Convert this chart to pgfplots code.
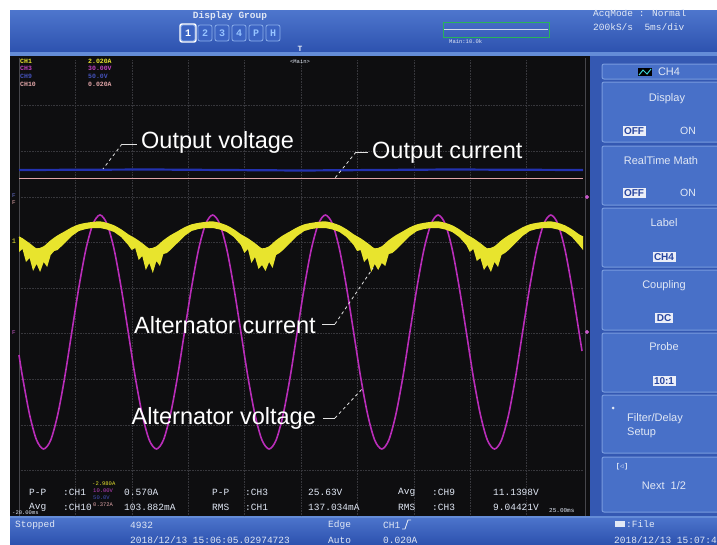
\documentclass[border=0pt]{standalone}
\usepackage{pgfplots}
\pgfplotsset{compat=1.18}
\usepackage{fontspec}
\setmainfont{Liberation Sans}
\newfontfamily\mono{Liberation Mono}
\definecolor{scopebg}{RGB}{14,14,16}
\definecolor{bartopc}{RGB}{78,118,205}
\definecolor{barbotc}{RGB}{45,82,175}
\definecolor{lightbar}{RGB}{100,140,215}
\definecolor{panelbg}{RGB}{52,88,178}
\definecolor{boxblue}{RGB}{72,112,200}
\definecolor{boxedge}{RGB}{120,155,222}
\definecolor{ytrace}{RGB}{232,228,45}
\definecolor{mtrace}{RGB}{185,45,185}
\definecolor{btrace}{RGB}{35,50,175}
\definecolor{ptrace}{RGB}{225,165,168}
\definecolor{gridc}{RGB}{55,55,60}
\definecolor{frameg}{RGB}{70,70,75}
\definecolor{leader}{RGB}{225,225,225}
\definecolor{uitext}{RGB}{225,232,245}
\definecolor{hitext}{RGB}{40,70,160}
\definecolor{hifill}{RGB}{235,238,248}
\definecolor{btnfill}{RGB}{60,100,195}
\definecolor{btnedge}{RGB}{140,175,235}
\definecolor{btntext}{RGB}{150,195,255}
\definecolor{greenbox}{RGB}{40,180,90}
\definecolor{mainline}{RGB}{210,220,235}
\definecolor{iconc}{RGB}{60,210,210}
\newcommand{\pbox}[2]{\filldraw[fill=boxblue, draw=boxedge, line width=1pt, rounded corners=2pt] (602,#1) rectangle (724,#2);}
\begin{document}
\begin{tikzpicture}
\begin{axis}[at={(0,0)}, anchor=south west, scale only axis, width=717pt, height=544pt,
  xmin=0, xmax=717, ymin=0, ymax=544, y dir=reverse, axis lines=none, ticks=none, clip=true]
\coordinate (A) at (axis cs:0,544);
\coordinate (B) at (axis cs:717,0);
% backgrounds
\fill[white] (0,0) rectangle (717,544);
\shade[top color=bartopc, bottom color=barbotc] (10,10) rectangle (717,52);
\fill[lightbar] (10,52) rectangle (717,56);
\fill[scopebg] (10,56) rectangle (590,516);
\fill[panelbg] (590,56) rectangle (717,516);
\shade[top color=bartopc, bottom color=barbotc] (10,516) rectangle (717,544);
\fill[lightbar] (10,516) rectangle (717,518);
% grid
\pgfplotsinvokeforeach{75.4,131.8,188.2,244.6,301,357.4,413.8,470.2,526.6}{\draw[gridc, densely dotted, line width=0.6pt] (#1,60) -- (#1,516);}
\pgfplotsinvokeforeach{105.6,151.2,196.8,242.4,288,333.6,379.2,424.8,470.4}{\draw[gridc, densely dotted, line width=0.6pt] (19,#1) -- (583,#1);}
\draw[frameg, line width=0.8pt] (19,58) -- (19,516);
\draw[frameg, line width=0.8pt] (585,58) -- (585,516);
% output voltage / output current
\addplot[btrace, line width=2.2pt] coordinates {(19,170) (150,169.5) (300,170.5) (450,169.5) (583,170)};
\addplot[ptrace, line width=1.4pt] coordinates {(19,178.5) (583,178.5)};
% alternator voltage
\addplot[mtrace, line width=1.6pt, smooth] coordinates {
(19,355) (22.5,376.8) (29.6,414.7) (36.6,440.1) (43.6,449) (50.7,440.1) (57.7,414.7) (64.8,376.8) (71.8,332) (78.9,287.2) (85.9,249.3) (93.0,223.9)
(100,215) (107.0,223.9) (114.1,249.3) (121.1,287.2) (128.2,332) (135.2,376.8) (142.3,414.7) (149.3,440.1) (156.4,449) (163.4,440.1) (170.4,414.7) (177.5,376.8) (184.5,332) (191.6,287.2) (198.6,249.3) (205.7,223.9)
(212.7,215) (219.7,223.9) (226.8,249.3) (233.8,287.2) (240.9,332) (247.9,376.8) (255.0,414.7) (262.0,440.1) (269.1,449) (276.1,440.1) (283.1,414.7) (290.2,376.8) (297.2,332) (304.3,287.2) (311.3,249.3) (318.4,223.9)
(325.4,215) (332.5,223.9) (339.5,249.3) (346.5,287.2) (353.6,332) (360.6,376.8) (367.7,414.7) (374.7,440.1) (381.8,449) (388.8,440.1) (395.8,414.7) (402.9,376.8) (409.9,332) (417.0,287.2) (424.0,249.3) (431.1,223.9)
(438.1,215) (445.2,223.9) (452.2,249.3) (459.2,287.2) (466.3,332) (473.3,376.8) (480.4,414.7) (487.4,440.1) (494.5,449) (501.5,440.1) (508.6,414.7) (515.6,376.8) (522.6,332) (529.7,287.2) (536.7,249.3) (543.8,223.9)
(550.8,215) (557.9,223.9) (564.9,249.3) (571.9,287.2) (579.0,332) (582,351)};
% alternator current: noisy band (upper envelope left to right, lower envelope right to left)
\addplot[fill=ytrace, draw=none] coordinates {
(19,237) (22.5,239) (29.6,244) (36.6,249) (43.7,247) (50.7,241) (57.7,236) (64.8,232) (71.8,228) (78.9,225) (85.9,223.5) (93.0,222.5)
(100,222) (107.0,223.5) (114.1,226) (121.1,230) (128.2,235) (135.2,239) (142.3,244) (149.3,249) (156.4,247) (163.4,241) (170.4,236) (177.5,232) (184.5,228) (191.6,225) (198.6,223.5) (205.7,222.5)
(212.7,222) (219.7,223.5) (226.8,226) (233.8,230) (240.9,235) (247.9,239) (255.0,244) (262.0,249) (269.1,247) (276.1,241) (283.1,236) (290.2,232) (297.2,228) (304.3,225) (311.3,223.5) (318.4,222.5)
(325.4,222) (332.5,223.5) (339.5,226) (346.5,230) (353.6,235) (360.6,239) (367.7,244) (374.7,249) (381.8,247) (388.8,241) (395.8,236) (402.9,232) (409.9,228) (417.0,225) (424.0,223.5) (431.1,222.5)
(438.1,222) (445.2,223.5) (452.2,226) (459.2,230) (466.3,235) (473.3,239) (480.4,244) (487.4,249) (494.5,247) (501.5,241) (508.6,236) (515.6,232) (522.6,228) (529.7,225) (536.7,223.5) (543.8,222.5)
(550.8,222) (557.9,223.5) (564.9,226) (571.9,230) (579.0,235) (583,237)
(583,250) (579.0,245) (571.9,237) (564.9,232) (557.9,229.5) (550.8,228)
(543.8,228) (536.7,229) (529.7,231) (522.6,236) (515.6,243) (508.6,250) (505.0,253) (501.5,255) (498.0,267) (494.5,262) (490.9,272) (487.4,265) (483.9,270) (480.4,258) (476.8,261) (473.3,249) (469.8,252) (466.3,245) (459.2,237) (452.2,232) (445.2,229.5) (438.1,228)
(431.1,228) (424.0,229) (417.0,231) (409.9,236) (402.9,243) (395.8,250) (392.3,253) (388.8,254) (385.3,266) (381.8,263) (378.2,270) (374.7,264) (371.2,272) (367.7,258) (364.1,262) (360.6,250) (357.1,251) (353.6,245) (346.5,237) (339.5,232) (332.5,229.5) (325.4,228)
(318.4,228) (311.3,229) (304.3,231) (297.2,236) (290.2,243) (283.1,250) (279.6,253) (276.1,255) (272.6,268) (269.1,262) (265.5,271) (262.0,265) (258.5,269) (255.0,257) (251.4,263) (247.9,249) (244.4,253) (240.9,245) (233.8,237) (226.8,232) (219.7,229.5) (212.7,228)
(205.7,228) (198.6,229) (191.6,231) (184.5,236) (177.5,243) (170.4,250) (166.9,253) (163.4,254) (159.9,266) (156.4,261) (152.8,273) (149.3,263) (145.8,270) (142.3,256) (138.7,260) (135.2,248) (131.7,250) (128.2,245) (121.1,237) (114.1,232) (107.0,229.5) (100,228)
(93.0,228) (85.9,229) (78.9,231) (71.8,236) (64.8,243) (57.7,250) (54.2,251) (50.7,255) (47.2,267) (43.7,262) (40.1,272) (36.6,264) (33.1,271) (29.6,258) (26.0,262) (22.5,249) (19,252)} -- cycle;
\addplot[ytrace, line width=1.3pt, smooth] coordinates {
(19,237) (22.5,239) (29.6,244) (36.6,249) (43.7,247) (50.7,241) (57.7,236) (64.8,232) (71.8,228) (78.9,225) (85.9,223.5) (93.0,222.5)
(100,222) (107.0,223.5) (114.1,226) (121.1,230) (128.2,235) (135.2,239) (142.3,244) (149.3,249) (156.4,247) (163.4,241) (170.4,236) (177.5,232) (184.5,228) (191.6,225) (198.6,223.5) (205.7,222.5)
(212.7,222) (219.7,223.5) (226.8,226) (233.8,230) (240.9,235) (247.9,239) (255.0,244) (262.0,249) (269.1,247) (276.1,241) (283.1,236) (290.2,232) (297.2,228) (304.3,225) (311.3,223.5) (318.4,222.5)
(325.4,222) (332.5,223.5) (339.5,226) (346.5,230) (353.6,235) (360.6,239) (367.7,244) (374.7,249) (381.8,247) (388.8,241) (395.8,236) (402.9,232) (409.9,228) (417.0,225) (424.0,223.5) (431.1,222.5)
(438.1,222) (445.2,223.5) (452.2,226) (459.2,230) (466.3,235) (473.3,239) (480.4,244) (487.4,249) (494.5,247) (501.5,241) (508.6,236) (515.6,232) (522.6,228) (529.7,225) (536.7,223.5) (543.8,222.5)
(550.8,222) (557.9,223.5) (564.9,226) (571.9,230) (579.0,235) (583,237)};
% right edge markers
\addplot[only marks, mark=*, mark size=1.8pt, mtrace!80!white] coordinates {(587,197) (587,332)};
% left edge markers
\node[font=\mono\fontsize{6}{6}\selectfont, text=btrace!70!white, inner sep=0] at (14,196) {F};
\node[font=\mono\fontsize{6}{6}\selectfont, text=ptrace, inner sep=0] at (14,203) {F};
\node[font=\mono\fontsize{7}{7}\selectfont, text=ytrace, inner sep=0] at (14,241) {1};
\node[font=\mono\fontsize{6}{6}\selectfont, text=mtrace!80!white, inner sep=0] at (14,333) {F};
% annotations
\draw[leader, line width=0.8pt] (122,144) -- (137,144);
\draw[leader, line width=0.8pt, dashed] (122,144) -- (103,169);
\draw[leader, line width=0.8pt] (356,152) -- (368,152);
\draw[leader, line width=0.8pt, dashed] (356,152) -- (335,178);
\draw[leader, line width=0.8pt] (322,324) -- (335,324);
\draw[leader, line width=0.8pt, dashed] (335,324) -- (373,268);
\draw[leader, line width=0.8pt] (323,418) -- (335,418);
\draw[leader, line width=0.8pt, dashed] (335,418) -- (363,388);
\node[anchor=base west, text=white, font=\fontsize{23.5}{26}\selectfont, inner sep=0] at (141,148.3) {Output voltage};
\node[anchor=base west, text=white, font=\fontsize{23.5}{26}\selectfont, inner sep=0] at (372,158) {Output current};
\node[anchor=base west, text=white, font=\fontsize{23.5}{26}\selectfont, inner sep=0] at (134,333.5) {Alternator current};
\node[anchor=base west, text=white, font=\fontsize{23.5}{26}\selectfont, inner sep=0] at (131.5,424) {Alternator voltage};
% channel readouts
\node[anchor=west, inner sep=0, font=\mono\bfseries\fontsize{6.5}{7}\selectfont, text=ytrace] at (20,61) {CH1};
\node[anchor=west, inner sep=0, font=\mono\bfseries\fontsize{6.5}{7}\selectfont, text=ytrace] at (88,61) {2.020A};
\node[anchor=west, inner sep=0, font=\mono\bfseries\fontsize{6.5}{7}\selectfont, text=mtrace!90!white] at (20,68.5) {CH3};
\node[anchor=west, inner sep=0, font=\mono\bfseries\fontsize{6.5}{7}\selectfont, text=mtrace!90!white] at (88,68.5) {30.00V};
\node[anchor=west, inner sep=0, font=\mono\bfseries\fontsize{6.5}{7}\selectfont, text=btrace!85!white] at (20,76) {CH9};
\node[anchor=west, inner sep=0, font=\mono\bfseries\fontsize{6.5}{7}\selectfont, text=btrace!85!white] at (88,76) {50.0V};
\node[anchor=west, inner sep=0, font=\mono\bfseries\fontsize{6.5}{7}\selectfont, text=ptrace] at (20,84) {CH10};
\node[anchor=west, inner sep=0, font=\mono\bfseries\fontsize{6.5}{7}\selectfont, text=ptrace] at (88,84) {0.020A};
\node[inner sep=0, font=\mono\bfseries\fontsize{8}{8}\selectfont, text=uitext] at (300,49) {T};
\node[inner sep=0, font=\mono\fontsize{5.5}{6}\selectfont, text=uitext] at (300,62) {<Main>};
% top bar
\node[inner sep=0, font=\mono\bfseries\fontsize{9.5}{10}\selectfont, text=uitext] at (230,16) {Display Group};
\filldraw[fill=btnfill, draw=btnedge, rounded corners=2pt, line width=0.8pt] (181,25) rectangle (195,41);
\filldraw[fill=btnfill, draw=btnedge, rounded corners=2pt, line width=0.8pt] (198,25) rectangle (212,41);
\filldraw[fill=btnfill, draw=btnedge, rounded corners=2pt, line width=0.8pt] (215,25) rectangle (229,41);
\filldraw[fill=btnfill, draw=btnedge, rounded corners=2pt, line width=0.8pt] (232,25) rectangle (246,41);
\filldraw[fill=btnfill, draw=btnedge, rounded corners=2pt, line width=0.8pt] (249,25) rectangle (263,41);
\filldraw[fill=btnfill, draw=btnedge, rounded corners=2pt, line width=0.8pt] (266,25) rectangle (280,41);
\draw[white, line width=1.4pt, rounded corners=2pt] (180,24) rectangle (196,42);
\node[inner sep=0, font=\mono\bfseries\fontsize{10}{10}\selectfont, text=white] at (188,33) {1};
\node[inner sep=0, font=\mono\bfseries\fontsize{10}{10}\selectfont, text=btntext] at (205,33) {2};
\node[inner sep=0, font=\mono\bfseries\fontsize{10}{10}\selectfont, text=btntext] at (222,33) {3};
\node[inner sep=0, font=\mono\bfseries\fontsize{10}{10}\selectfont, text=btntext] at (239,33) {4};
\node[inner sep=0, font=\mono\bfseries\fontsize{10}{10}\selectfont, text=btntext] at (256,33) {P};
\node[inner sep=0, font=\mono\bfseries\fontsize{10}{10}\selectfont, text=btntext] at (273,33) {H};
\draw[greenbox, line width=1pt] (443,22) rectangle (549,37);
\draw[mainline, line width=0.8pt] (444,29) -- (548,29);
\node[anchor=west, inner sep=0, font=\mono\fontsize{5.5}{6}\selectfont, text=uitext] at (449,42) {Main:10.0k};
\node[anchor=west, inner sep=0, font=\mono\fontsize{9.5}{10}\selectfont, text=uitext] at (593,14) {AcqMode : Normal};
\node[anchor=west, inner sep=0, font=\mono\fontsize{9.5}{10}\selectfont, text=uitext] at (593,27) {200kS/s \ 5ms/div};
% right panel
\pbox{64}{79}
\fill[black] (638,68) rectangle (652,76);
\draw[iconc, line width=1pt] (639,75) -- (643,70) -- (647,74) -- (651,69);
\node[inner sep=0, font=\fontsize{11}{12}\selectfont, text=uitext] at (669,72) {CH4};
\pbox{82}{142}
\node[inner sep=0, font=\fontsize{11}{12}\selectfont, text=uitext] at (667,99) {Display};
\node[fill=hifill, text=hitext, inner sep=1.5pt, font=\bfseries\fontsize{10}{11}\selectfont] at (634,131) {OFF};
\node[inner sep=0, font=\fontsize{10.5}{11}\selectfont, text=uitext] at (688,131) {ON};
\pbox{146}{205}
\node[inner sep=0, font=\fontsize{11}{12}\selectfont, text=uitext] at (661,161) {RealTime Math};
\node[fill=hifill, text=hitext, inner sep=1.5pt, font=\bfseries\fontsize{10}{11}\selectfont] at (634,193) {OFF};
\node[inner sep=0, font=\fontsize{10.5}{11}\selectfont, text=uitext] at (688,193) {ON};
\pbox{208}{267}
\node[inner sep=0, font=\fontsize{11}{12}\selectfont, text=uitext] at (664,223) {Label};
\node[fill=hifill, text=hitext, inner sep=1.5pt, font=\bfseries\fontsize{10}{11}\selectfont] at (664,257) {CH4};
\pbox{270}{330}
\node[inner sep=0, font=\fontsize{11}{12}\selectfont, text=uitext] at (664,286) {Coupling};
\node[fill=hifill, text=hitext, inner sep=1.5pt, font=\bfseries\fontsize{10}{11}\selectfont] at (664,318) {DC};
\pbox{333}{392}
\node[inner sep=0, font=\fontsize{11}{12}\selectfont, text=uitext] at (664,347) {Probe};
\node[fill=hifill, text=hitext, inner sep=1.5pt, font=\bfseries\fontsize{10}{11}\selectfont] at (664,381) {10:1};
\pbox{395}{453}
\fill[uitext] (613,408) circle[radius=1.5];
\node[anchor=west, inner sep=0, font=\fontsize{11}{12}\selectfont, text=uitext] at (627,419) {Filter/Delay};
\node[anchor=west, inner sep=0, font=\fontsize{11}{12}\selectfont, text=uitext] at (627,433) {Setup};
\pbox{457}{512}
\node[inner sep=0, font=\mono\bfseries\fontsize{7}{7}\selectfont, text=uitext] at (622,467) {[$\triangleleft$]};
\node[inner sep=0, font=\fontsize{11}{12}\selectfont, text=uitext] at (664,486) {Next \ 1/2};
% measurement area
\node[anchor=west, inner sep=0, font=\mono\fontsize{9.5}{10}\selectfont, text=uitext] at (29,492) {P-P};
\node[anchor=west, inner sep=0, font=\mono\fontsize{9.5}{10}\selectfont, text=uitext] at (63,492) {:CH1};
\node[anchor=west, inner sep=0, font=\mono\fontsize{9.5}{10}\selectfont, text=uitext] at (124,492) {0.570A};
\node[anchor=west, inner sep=0, font=\mono\fontsize{9.5}{10}\selectfont, text=uitext] at (212,492) {P-P};
\node[anchor=west, inner sep=0, font=\mono\fontsize{9.5}{10}\selectfont, text=uitext] at (245,492) {:CH3};
\node[anchor=west, inner sep=0, font=\mono\fontsize{9.5}{10}\selectfont, text=uitext] at (308,492) {25.63V};
\node[anchor=west, inner sep=0, font=\mono\fontsize{9.5}{10}\selectfont, text=uitext] at (398,492) {Avg};
\node[anchor=west, inner sep=0, font=\mono\fontsize{9.5}{10}\selectfont, text=uitext] at (432,492) {:CH9};
\node[anchor=west, inner sep=0, font=\mono\fontsize{9.5}{10}\selectfont, text=uitext] at (493,492) {11.1398V};
\node[anchor=west, inner sep=0, font=\mono\fontsize{9.5}{10}\selectfont, text=uitext] at (29,507) {Avg};
\node[anchor=west, inner sep=0, font=\mono\fontsize{9.5}{10}\selectfont, text=uitext] at (63,507) {:CH10};
\node[anchor=west, inner sep=0, font=\mono\fontsize{9.5}{10}\selectfont, text=uitext] at (124,507) {103.882mA};
\node[anchor=west, inner sep=0, font=\mono\fontsize{9.5}{10}\selectfont, text=uitext] at (212,507) {RMS};
\node[anchor=west, inner sep=0, font=\mono\fontsize{9.5}{10}\selectfont, text=uitext] at (245,507) {:CH1};
\node[anchor=west, inner sep=0, font=\mono\fontsize{9.5}{10}\selectfont, text=uitext] at (308,507) {137.034mA};
\node[anchor=west, inner sep=0, font=\mono\fontsize{9.5}{10}\selectfont, text=uitext] at (398,507) {RMS};
\node[anchor=west, inner sep=0, font=\mono\fontsize{9.5}{10}\selectfont, text=uitext] at (432,507) {:CH3};
\node[anchor=west, inner sep=0, font=\mono\fontsize{9.5}{10}\selectfont, text=uitext] at (493,507) {9.04421V};
\node[anchor=west, inner sep=0, font=\mono\fontsize{5.5}{6}\selectfont, text=ytrace] at (92,484) {-2.980A};
\node[anchor=west, inner sep=0, font=\mono\fontsize{5.5}{6}\selectfont, text=mtrace!90!white] at (93,491) {10.00V};
\node[anchor=west, inner sep=0, font=\mono\fontsize{5.5}{6}\selectfont, text=btrace!85!white] at (93,498) {50.0V};
\node[anchor=west, inner sep=0, font=\mono\fontsize{5.5}{6}\selectfont, text=ptrace] at (93,505) {0.372A};
\node[anchor=west, inner sep=0, font=\mono\fontsize{5.5}{6}\selectfont, text=uitext] at (12,513) {-20.00ms};
\node[anchor=west, inner sep=0, font=\mono\fontsize{6}{6}\selectfont, text=uitext] at (549,511) {25.00ms};
% bottom bar
\node[anchor=west, inner sep=0, font=\mono\fontsize{9.5}{10}\selectfont, text=uitext] at (15,525) {Stopped};
\node[anchor=west, inner sep=0, font=\mono\fontsize{9.5}{10}\selectfont, text=uitext] at (130,525) {4932};
\node[anchor=west, inner sep=0, font=\mono\fontsize{9.5}{10}\selectfont, text=uitext] at (130,540) {2018/12/13 15:06:05.02974723};
\node[anchor=west, inner sep=0, font=\mono\fontsize{9.5}{10}\selectfont, text=uitext] at (328,525) {Edge};
\node[anchor=west, inner sep=0, font=\mono\fontsize{9.5}{10}\selectfont, text=uitext] at (328,540) {Auto};
\node[anchor=west, inner sep=0, font=\mono\fontsize{9.5}{10}\selectfont, text=uitext] at (383,525) {CH1};
\draw[uitext, line width=0.9pt] (402,529) -- (405,529) -- (408,520) -- (411,520);
\node[anchor=west, inner sep=0, font=\mono\fontsize{9.5}{10}\selectfont, text=uitext] at (383,540) {0.020A};
\fill[uitext] (615,521) rectangle (625,527);
\node[anchor=west, inner sep=0, font=\mono\fontsize{9.5}{10}\selectfont, text=uitext] at (626,524) {:File};
\node[anchor=west, inner sep=0, font=\mono\fontsize{9.5}{10}\selectfont, text=uitext] at (614,540) {2018/12/13 15:07:4};
\end{axis}
\pgfresetboundingbox
\path[use as bounding box] (A) rectangle (B);
\end{tikzpicture}
\end{document}
